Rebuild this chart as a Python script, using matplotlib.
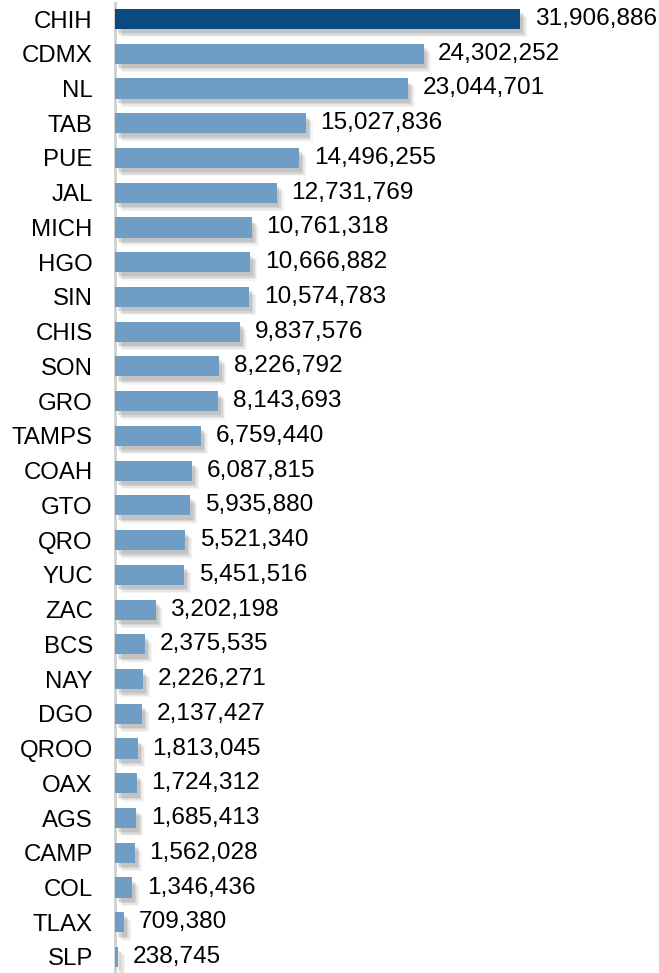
import matplotlib
matplotlib.use("Agg")
import matplotlib.pyplot as plt
import matplotlib.patheffects as pe

states = ["CHIH", "CDMX", "NL", "TAB", "PUE", "JAL", "MICH", "HGO", "SIN", "CHIS",
          "SON", "GRO", "TAMPS", "COAH", "GTO", "QRO", "YUC", "ZAC", "BCS", "NAY",
          "DGO", "QROO", "OAX", "AGS", "CAMP", "COL", "TLAX", "SLP"]
values = [31906886, 24302252, 23044701, 15027836, 14496255, 12731769, 10761318,
          10666882, 10574783, 9837576, 8226792, 8143693, 6759440, 6087815, 5935880,
          5521340, 5451516, 3202198, 2375535, 2226271, 2137427, 1813045, 1724312,
          1685413, 1562028, 1346436, 709380, 238745]

plt.rcParams['font.family'] = ['Liberation Sans', 'DejaVu Sans']

W, H = 659, 973
fig = plt.figure(figsize=(W / 100, H / 100), dpi=100)
ax = fig.add_axes([115 / W, 0, 1 - 115 / W, 1])

dark = "#0B4A7E"
light = "#6E9DC6"
colors = [dark] + [light] * (len(values) - 1)
ypos = list(range(len(values)))

shadow = [pe.SimplePatchShadow(offset=(dx, -dy), shadow_rgbFace="#444444", alpha=a)
          for dx, dy, a in [(5, 6, 0.06), (4, 5, 0.08), (3, 4, 0.1), (2, 3, 0.12)]]
shadow.append(pe.Normal())

bars = ax.barh(ypos, values, height=0.58, color=colors, zorder=3)
for b in bars:
    b.set_path_effects(shadow)

for y, v in zip(ypos, values):
    ax.annotate(f"{v:,}", xy=(v, y), xytext=(10.5, 0), textcoords="offset points",
                va="center", ha="left", fontsize=17.6, color="black")

n = len(values)
ax.set_ylim(n - 1 + 16 / 34.74, -19 / 34.74)
ax.set_xlim(0, 544 / 12.7 * 1e6)
ax.set_yticks(ypos)
ax.set_yticklabels(states, fontsize=17.3)
ax.tick_params(axis="y", length=0, pad=16)
ax.set_xticks([])
for s in ["top", "right", "bottom"]:
    ax.spines[s].set_visible(False)
ax.spines["left"].set_color("#D0D0D0")
ax.spines["left"].set_linewidth(2)
ax.spines["left"].set_bounds(n - 1 + 16 / 34.74, -0.45)

fig.savefig("out.png", dpi=100)
